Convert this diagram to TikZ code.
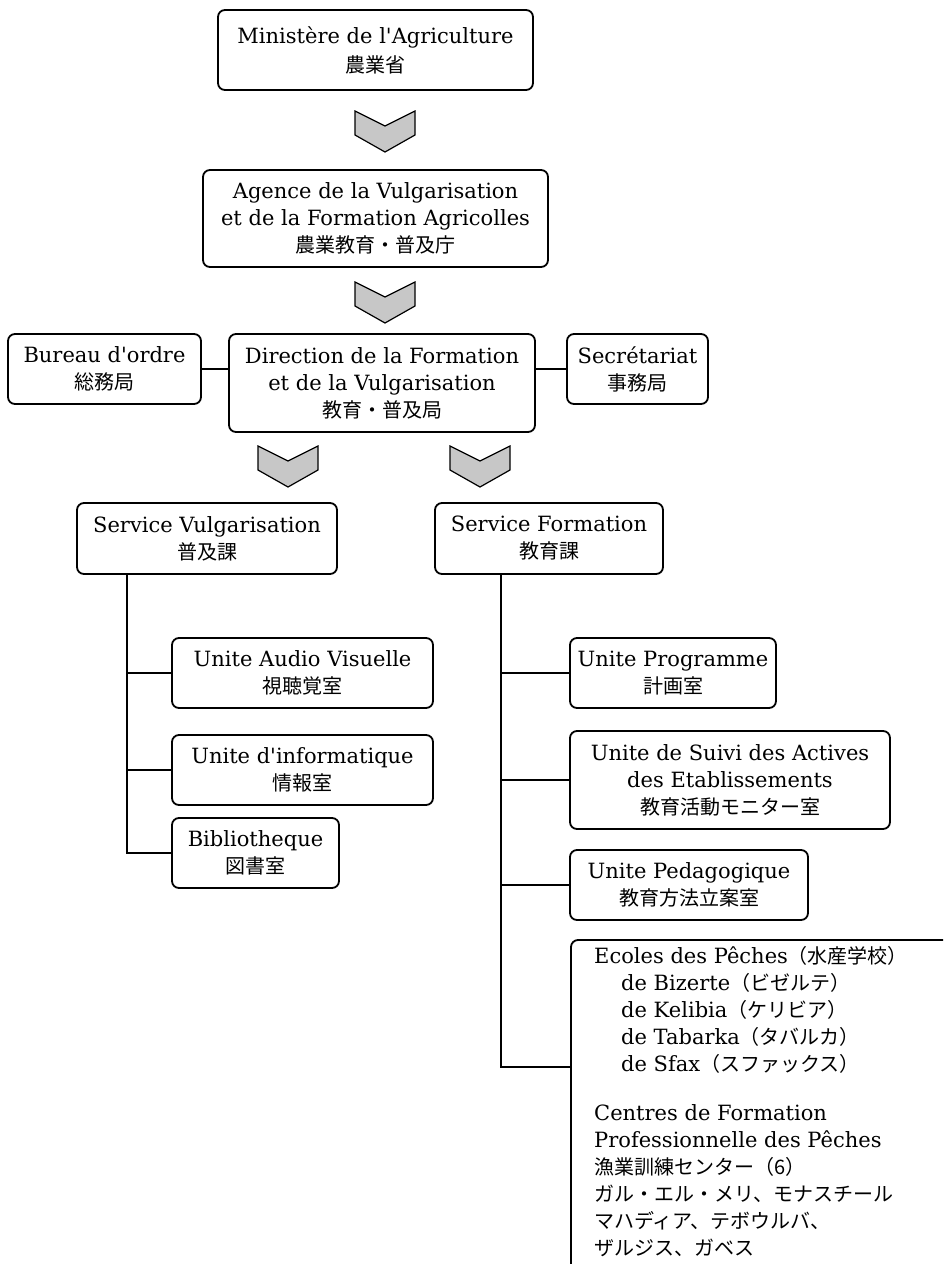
\documentclass[tikz,border=0pt]{standalone}
\usepackage{fontspec}
\setmainfont{DejaVu Serif}
\newfontfamily\jpfont{Noto Sans CJK JP}
\newcommand{\jp}[1]{{\jpfont\fontsize{20}{27}\selectfont #1}}
\newcommand{\apos}{\textquotesingle}
\begin{document}
\begin{tikzpicture}[x=1pt,y=-1pt,
  org/.style={draw=black, line width=1.8pt, rounded corners=7pt, fill=white,
    align=center, inner sep=0pt, font=\fontsize{21}{27}\selectfont},
  link/.style={draw=black, line width=1.8pt},
  chev/.style={draw=black, line width=1.2pt, fill=black!22, line join=miter},
  chevron/.pic={\draw[chev] (-30,0) -- (0,15) -- (30,0) -- (30,24) -- (0,41) -- (-30,24) -- cycle;}]
\useasboundingbox (0,0) rectangle (943,1264);

% top of the hierarchy
\node[org, minimum width=315, minimum height=80] (min) at (375.5,50)
  {Ministère de l\apos Agriculture\\[2pt] \jp{農業省}};
\node[org, minimum width=345, minimum height=97] (age) at (375.5,218.5)
  {Agence de la Vulgarisation\\ et de la Formation Agricolles\\ \jp{農業教育・普及庁}};

% direction level
\node[org, minimum width=193, minimum height=70] (bur) at (104.5,369)
  {Bureau d\apos ordre\\ \jp{総務局}};
\node[org, minimum width=306, minimum height=98] (dir) at (382,383)
  {Direction de la Formation\\ et de la Vulgarisation\\ \jp{教育・普及局}};
\node[org, minimum width=141, minimum height=70] (sec) at (637.5,369)
  {Secrétariat\\ \jp{事務局}};

% services
\node[org, minimum width=260, minimum height=71] (sv) at (207,538.5)
  {Service Vulgarisation\\ \jp{普及課}};
\node[org, minimum width=228, minimum height=71] (sf) at (549,538.5)
  {Service Formation\\ \jp{教育課}};

% units of the extension service
\node[org, minimum width=261, minimum height=70] (aud) at (302.5,673)
  {Unite Audio Visuelle\\ \jp{視聴覚室}};
\node[org, minimum width=261, minimum height=70] (inf) at (302.5,770)
  {Unite d\apos informatique\\ \jp{情報室}};
\node[org, minimum width=167, minimum height=70] (bib) at (255.5,853)
  {Bibliotheque\\ \jp{図書室}};

% units of the training service
\node[org, minimum width=206, minimum height=70] (prog) at (673,673)
  {Unite Programme\\ \jp{計画室}};
\node[org, minimum width=320, minimum height=98] (sui) at (730,780)
  {Unite de Suivi des Actives\\ des Etablissements\\ \jp{教育活動モニター室}};
\node[org, minimum width=238, minimum height=70] (ped) at (689,885)
  {Unite Pedagogique\\ \jp{教育方法立案室}};

% schools and centres: open-ended frame running off the page
\coordinate (ecTop) at (943,940);
\coordinate (ecBot) at (571,1264);
\draw[link, rounded corners=7pt] (ecBot) |- (ecTop);
\coordinate (ecIn) at (571,1067);
\node[anchor=north west, align=left, inner sep=0pt,
  font=\fontsize{21}{27}\selectfont] (eco) at (594,946)
  {Ecoles des Pêches\jp{（水産学校）}\\
   \hspace*{27pt}de Bizerte\jp{（ビゼルテ）}\\
   \hspace*{27pt}de Kelibia\jp{（ケリビア）}\\
   \hspace*{27pt}de Tabarka\jp{（タバルカ）}\\
   \hspace*{27pt}de Sfax\jp{（スファックス）}\\[22pt]
   Centres de Formation\\
   Professionnelle des Pêches\\
   \jp{漁業訓練センター（6）}\\
   \jp{ガル・エル・メリ、モナスチール}\\
   \jp{マハディア、テボウルバ、}\\
   \jp{ザルジス、ガベス}};

% chevrons between levels
\pic at (385,111) {chevron};
\pic at (385,282) {chevron};
\pic at (288,446) {chevron};
\pic at (480,446) {chevron};

% side links of the direction
\draw[link] (bur.east) -- (dir.west |- bur.east);
\draw[link] (sec.west) -- (dir.east |- sec.west);

% trunk of the extension service
\coordinate (vt) at (127,574);
\draw[link] (vt) |- (bib.west);
\draw[link] (vt |- aud.west) -- (aud.west);
\draw[link] (vt |- inf.west) -- (inf.west);

% trunk of the training service
\coordinate (ft) at (501,574);
\draw[link] (ft) |- (ecIn);
\draw[link] (ft |- prog.west) -- (prog.west);
\draw[link] (ft |- sui.west) -- (sui.west);
\draw[link] (ft |- ped.west) -- (ped.west);
\end{tikzpicture}
\end{document}
